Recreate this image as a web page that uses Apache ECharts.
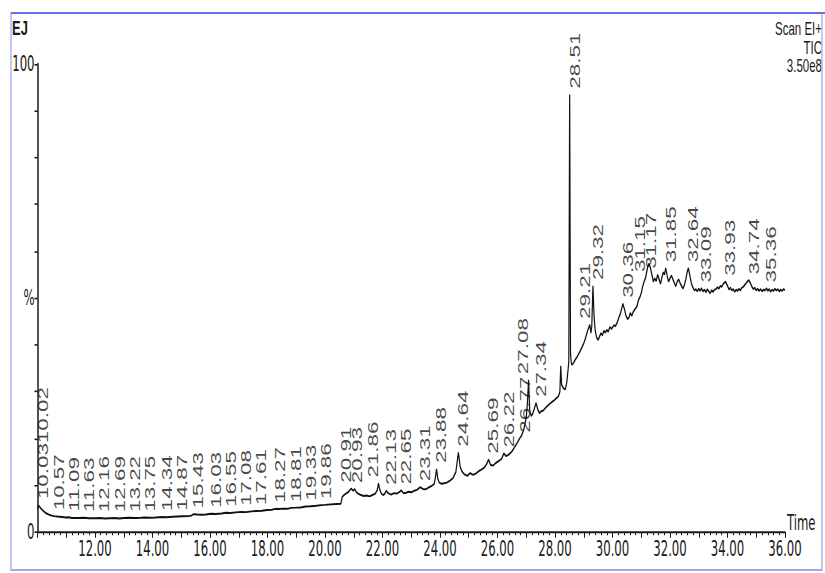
<!DOCTYPE html>
<html>
<head>
<meta charset="utf-8">
<script src="https://cdn.jsdelivr.net/npm/echarts@6/dist/echarts.min.js"></script>
<style>
  html, body { margin: 0; padding: 0; background: #fff; overflow: hidden; }
  #stage { width: 825px; height: 573px; overflow: hidden; position: relative; }
  /* the plot is laid out on a shorter canvas and stretched vertically, like the instrument printout */
  #chart { width: 825px; height: 358px; transform-origin: 0 0; }
</style>
</head>
<body>
<div id="stage"><div id="chart"></div></div>
<script>
// ---- chromatogram (TIC) : retention time in minutes, relative abundance in % ----
const traceTime = [
  10.00, 10.02, 10.03, 10.06, 10.10, 10.15, 10.22, 10.30, 10.40, 10.50, 10.57, 10.70, 10.85, 11.00, 11.09, 11.20,
  11.40, 11.63, 11.80, 12.00, 12.16, 12.35, 12.50, 12.69, 12.85, 13.00, 13.22, 13.40, 13.60, 13.75, 13.90, 14.10,
  14.34, 14.50, 14.70, 14.87, 15.05, 15.25, 15.35, 15.43, 15.55, 15.70, 15.85, 16.03, 16.20, 16.40, 16.55, 16.70,
  16.90, 17.08, 17.25, 17.45, 17.61, 17.80, 18.00, 18.15, 18.27, 18.40, 18.55, 18.70, 18.81, 19.00, 19.15, 19.33,
  19.50, 19.70, 19.86, 20.00, 20.20, 20.40, 20.55, 20.60, 20.68, 20.75, 20.82, 20.91, 20.93, 20.98, 21.03, 21.08,
  21.15, 21.25, 21.35, 21.45, 21.55, 21.65, 21.75, 21.82, 21.86, 21.90, 21.96, 22.03, 22.08, 22.13, 22.20, 22.30,
  22.40, 22.50, 22.58, 22.65, 22.72, 22.80, 22.90, 23.00, 23.10, 23.20, 23.31, 23.40, 23.50, 23.60, 23.70, 23.80,
  23.85, 23.88, 23.92, 23.97, 24.05, 24.15, 24.25, 24.35, 24.45, 24.55, 24.64, 24.70, 24.76, 24.85, 24.95, 25.05,
  25.15, 25.25, 25.35, 25.45, 25.55, 25.62, 25.69, 25.76, 25.85, 25.95, 26.05, 26.14, 26.22, 26.30, 26.40, 26.50,
  26.60, 26.70, 26.77, 26.84, 26.92, 27.00, 27.04, 27.08, 27.12, 27.17, 27.22, 27.28, 27.34, 27.40, 27.46, 27.52,
  27.60, 27.68, 27.75, 27.82, 27.90, 27.98, 28.05, 28.12, 28.17, 28.20, 28.23, 28.27, 28.31, 28.36, 28.41, 28.46,
  28.48, 28.51, 28.54, 28.57, 28.60, 28.65, 28.70, 28.77, 28.82, 28.87, 28.94, 29.00, 29.05, 29.11, 29.16, 29.21,
  29.25, 29.28, 29.32, 29.36, 29.40, 29.45, 29.50, 29.55, 29.60, 29.65, 29.70, 29.75, 29.80, 29.85, 29.91, 29.97,
  30.05, 30.10, 30.16, 30.22, 30.28, 30.33, 30.36, 30.42, 30.47, 30.52, 30.57, 30.62, 30.67, 30.72, 30.78, 30.85,
  30.90, 30.96, 31.00, 31.05, 31.10, 31.15, 31.17, 31.22, 31.27, 31.32, 31.37, 31.42, 31.47, 31.52, 31.57, 31.62,
  31.67, 31.72, 31.77, 31.81, 31.85, 31.90, 31.95, 32.00, 32.05, 32.10, 32.15, 32.20, 32.25, 32.30, 32.35, 32.40,
  32.45, 32.50, 32.55, 32.60, 32.64, 32.70, 32.75, 32.80, 32.85, 32.90, 32.95, 33.00, 33.05, 33.09, 33.15, 33.20,
  33.25, 33.30, 33.35, 33.40, 33.45, 33.50, 33.55, 33.60, 33.65, 33.70, 33.75, 33.80, 33.85, 33.93, 34.00, 34.05,
  34.10, 34.15, 34.20, 34.25, 34.30, 34.35, 34.40, 34.45, 34.50, 34.55, 34.60, 34.65, 34.70, 34.74, 34.80, 34.85,
  34.90, 34.95, 35.00, 35.05, 35.10, 35.15, 35.20, 35.25, 35.30, 35.36, 35.40, 35.45, 35.50, 35.55, 35.60, 35.65,
  35.70, 35.75, 35.80, 35.85, 35.90, 35.95, 36.00
];
const traceValue = [
  5.0, 5.6, 5.8, 5.5, 5.2, 4.8, 4.4, 4.0, 3.7, 3.5, 3.4, 3.3, 3.2, 3.1, 3.15, 3.0,
  3.0, 3.05, 2.95, 2.95, 3.0, 2.9, 2.95, 3.0, 2.9, 3.0, 3.05, 3.0, 3.05, 3.1, 3.05, 3.1,
  3.2, 3.15, 3.25, 3.3, 3.35, 3.4, 3.5, 3.8, 3.75, 3.7, 3.75, 3.9, 3.85, 3.95, 4.1, 4.05,
  4.2, 4.3, 4.25, 4.4, 4.5, 4.55, 4.7, 4.75, 4.95, 4.9, 5.0, 4.95, 5.15, 5.2, 5.25, 5.45,
  5.5, 5.6, 5.75, 5.8, 5.9, 6.0, 6.05, 7.5, 8.0, 8.3, 8.6, 9.3, 9.2, 8.8, 9.2, 8.6,
  8.2, 7.9, 7.7, 7.8, 7.6, 7.9, 8.2, 9.0, 10.4, 9.2, 8.2, 7.9, 8.2, 8.8, 8.3, 8.0,
  8.3, 8.2, 8.5, 8.9, 8.4, 8.3, 8.6, 8.5, 8.8, 9.0, 9.6, 9.2, 9.1, 9.5, 9.8, 10.3,
  12.0, 13.5, 11.5, 10.6, 10.3, 10.4, 10.6, 11.0, 11.5, 12.8, 17.0, 14.0, 13.0, 12.3, 12.0, 12.6,
  12.2, 12.5, 13.0, 13.4, 13.8, 14.5, 15.5, 14.3, 14.2, 14.8, 15.2, 15.6, 16.8, 16.2, 16.6, 17.2,
  18.2, 19.2, 20.0, 20.6, 22.0, 24.5, 27.5, 32.5, 26.0, 24.8, 25.2, 26.3, 27.6, 26.2, 25.4, 25.8,
  26.0, 26.6, 27.0, 27.4, 27.8, 28.2, 28.6, 29.0, 30.0, 35.5, 31.5, 31.0, 30.6, 30.5, 32.0, 35.0,
  36.5, 93.5, 38.0, 36.0, 35.7, 36.2, 36.8, 37.4, 38.0, 38.6, 39.5, 40.3, 41.2, 42.5, 43.5, 44.3,
  42.5, 44.0, 52.6, 46.0, 43.0, 41.5, 41.0, 41.8, 42.5, 42.0, 43.0, 42.6, 43.2, 42.8, 43.8, 43.4,
  44.2, 44.0, 44.7, 45.8, 46.8, 48.0, 48.8, 47.5, 46.2, 45.5, 45.8, 46.8, 46.2, 47.0, 47.6, 48.2,
  49.5, 50.3, 51.0, 52.5, 53.5, 54.3, 55.0, 56.5, 57.4, 56.4, 55.0, 53.5, 54.2, 53.6, 55.0, 54.0,
  53.0, 54.5, 55.5, 55.0, 56.4, 54.8, 53.5, 54.2, 54.8, 54.0, 53.2, 52.5, 53.5, 54.0, 53.2, 52.6,
  52.0, 52.8, 54.0, 55.6, 56.4, 54.5, 53.0, 52.2, 51.6, 51.9, 51.4, 52.0, 51.5, 52.1, 51.4, 51.8,
  51.2, 51.9, 51.4, 51.0, 51.7, 51.3, 51.8, 51.9, 52.3, 52.0, 52.6, 52.4, 53.0, 53.5, 52.6, 51.8,
  52.2, 51.6, 51.9, 51.3, 51.8, 51.5, 52.0, 51.6, 52.2, 52.4, 52.8, 53.2, 53.6, 53.8, 53.1, 52.4,
  51.9, 52.2, 51.6, 52.0, 51.5, 51.9, 51.4, 51.8, 51.6, 52.1, 51.5, 51.9, 51.3, 51.8, 51.5, 52.0,
  51.6, 51.9, 51.4, 51.8, 51.5, 51.9, 51.7
];

// ---- annotated peak retention times (min) ----
const peakTimes = [
  10.02, 10.03, 10.57, 11.09, 11.63, 12.16, 12.69, 13.22, 13.75, 14.34, 14.87, 15.43, 16.03, 16.55, 17.08,
  17.61, 18.27, 18.81, 19.33, 19.86, 20.91, 20.93, 21.86, 22.13, 22.65, 23.31, 23.88, 24.64, 25.69, 26.22,
  26.77, 27.08, 27.34, 28.51, 29.21, 29.32, 30.36, 31.15, 31.17, 31.85, 32.64, 33.09, 33.93, 34.74, 35.36
];

// ---- axis ticks ----
const timeMin = 10, timeMax = 36, timeStep = 1;
const timeLabelEvery = 2;
const abundanceMin = 0, abundanceMax = 100, abundanceStep = 10;
const abundanceTickText = { 0: '0', 50: '%', 100: '100' };

// ---- header texts ----
const headerLeft = 'EJ';
const headerRight = ['Scan EI+', 'TIC', '3.50e8'];
const timeAxisName = 'Time';

// ---- layout / styling ----
const W = 825, H = 358, SY = 573 / H;
document.getElementById('chart').style.transform = 'scaleY(' + SY + ')';
const FONT = '"Liberation Sans", Arial, sans-serif';
const NARROW = '"Liberation Sans Narrow", "DejaVu Sans Condensed", "Liberation Sans", Arial, sans-serif';
const INK = '#1a1a1a';
const LABEL_SIZE = 14;
const LABEL_LINE = 10;      // line box of a rotated label = its horizontal footprint (px)
const LABEL_GAP = 3.6;      // gap between trace and label start (px, before stretch)
const CLASH_TOLERANCE = 3;  // vertical overlap that is still acceptable (px, before stretch)
const GRID = { left: 37.5, right: 40, top: 64 / SY, bottom: (573 - 532) / SY };

function valueAt(t) {
  for (let i = 1; i < traceTime.length; i++) {
    if (traceTime[i] >= t) {
      const t0 = traceTime[i - 1], t1 = traceTime[i];
      const f = t1 === t0 ? 0 : (t - t0) / (t1 - t0);
      return traceValue[i - 1] + f * (traceValue[i] - traceValue[i - 1]);
    }
  }
  return traceValue[traceValue.length - 1];
}

const measureCtx = document.createElement('canvas').getContext('2d');
measureCtx.font = LABEL_SIZE + 'px ' + FONT;
const textLen = s => measureCtx.measureText(s).width;

const chart = echarts.init(document.getElementById('chart'), null, { renderer: 'svg', width: W, height: H });

const header = [
  { type: 'text', left: 12, top: 17 / SY, style: { text: headerLeft, font: 'bold 13px ' + FONT, fill: INK, lineHeight: 10 } },
  ...headerRight.map((s, i) => ({
    type: 'text', right: 3, top: (19 + i * 18.5) / SY,
    style: { text: s, font: '11.5px ' + FONT, fill: INK, lineHeight: 10 }
  }))
];

const frame = [
  { type: 'rect', shape: { x: 11, y: 13 / SY, width: 811, height: (570 - 13) / SY },
    style: { fill: 'none', stroke: '#a8a8f0', lineWidth: 1.3 }, z: 10 },
  { type: 'line', shape: { x1: 11, y1: 13 / SY, x2: W, y2: 13 / SY },
    style: { stroke: '#6d6df2', lineWidth: 1.4 }, z: 11 }
];

const traceSeries = {
  type: 'line', name: 'TIC', silent: true, showSymbol: false, symbol: 'none',
  data: traceTime.map((t, i) => [t, traceValue[i]]),
  lineStyle: { color: '#111', width: 1.2 }
};

const option = {
  animation: false,
  backgroundColor: '#fff',
  grid: GRID,
  xAxis: {
    type: 'value', min: timeMin, max: timeMax, interval: timeStep,
    name: timeAxisName, nameLocation: 'end', nameGap: 2,
    nameTextStyle: { fontFamily: NARROW, fontSize: 13, color: INK, align: 'left', verticalAlign: 'bottom', padding: [0, 0, -1, 0] },
    axisLine: { show: true, onZero: false, lineStyle: { color: INK, width: 1.2 } },
    axisTick: { show: true, length: 3.6, lineStyle: { color: INK, width: 1 } },
    minorTick: { show: true, splitNumber: 5, length: 2, lineStyle: { color: INK, width: 1 } },
    axisLabel: {
      fontFamily: NARROW, fontSize: 13, color: INK, margin: 4,
      formatter: v => (v >= timeMin + timeLabelEvery && Math.round(v) % timeLabelEvery === 0) ? v.toFixed(2) : ''
    },
    splitLine: { show: false }
  },
  yAxis: {
    type: 'value', min: abundanceMin, max: abundanceMax, interval: abundanceStep,
    axisLine: { show: true, lineStyle: { color: INK, width: 1.5 } },
    axisTick: { show: true, length: 3, lineStyle: { color: INK, width: 1 } },
    axisLabel: {
      fontFamily: NARROW, fontSize: 13, color: INK, margin: 3,
      formatter: v => abundanceTickText[v] || ''
    },
    splitLine: { show: false }
  },
  graphic: [...frame, ...header],
  series: [traceSeries]
};
chart.setOption(option);

// place the retention-time labels above their peaks; a label that would collide with
// its right-hand neighbour moves to the left of its peak, or on top when there is no room
const pxX = t => chart.convertToPixel({ xAxisIndex: 0 }, t);
const pxY = v => chart.convertToPixel({ yAxisIndex: 0 }, v);
const axisStart = pxX(timeMin);
const marks = peakTimes.slice().sort((a, b) => a - b).map(t => ({
  t, v: valueAt(t), text: t.toFixed(2), side: 'right', dist: LABEL_GAP
}));
const span = m => {
  const bottom = pxY(m.v) - m.dist;
  return [bottom - textLen(m.text), bottom];
};
for (let i = marks.length - 1; i > 0; i--) {
  const a = marks[i - 1], b = marks[i];
  const [aTop, aBot] = span(a), [bTop, bBot] = span(b);
  const verticalClash = aTop < bBot - CLASH_TOLERANCE && bTop < aBot - CLASH_TOLERANCE;
  if (verticalClash && pxX(b.t) - pxX(a.t) < LABEL_LINE) {
    if (pxX(a.t) - LABEL_LINE > axisStart) a.side = 'left';
    else a.dist = b.dist + textLen(b.text) + 0.5;
  }
}
chart.setOption({
  series: [
    traceSeries,
    {
      type: 'scatter', name: 'peaks', silent: true, symbolSize: 0,
      data: marks.map(m => ({
        value: [m.t, m.v],
        label: { verticalAlign: m.side === 'right' ? 'top' : 'bottom', distance: m.dist }
      })),
      label: {
        show: true, position: 'top', rotate: 90, align: 'left',
        fontFamily: FONT, fontSize: LABEL_SIZE, lineHeight: LABEL_LINE, color: '#161616',
        formatter: p => p.value[0].toFixed(2)
      }
    }
  ]
});
</script>
</body>
</html>
